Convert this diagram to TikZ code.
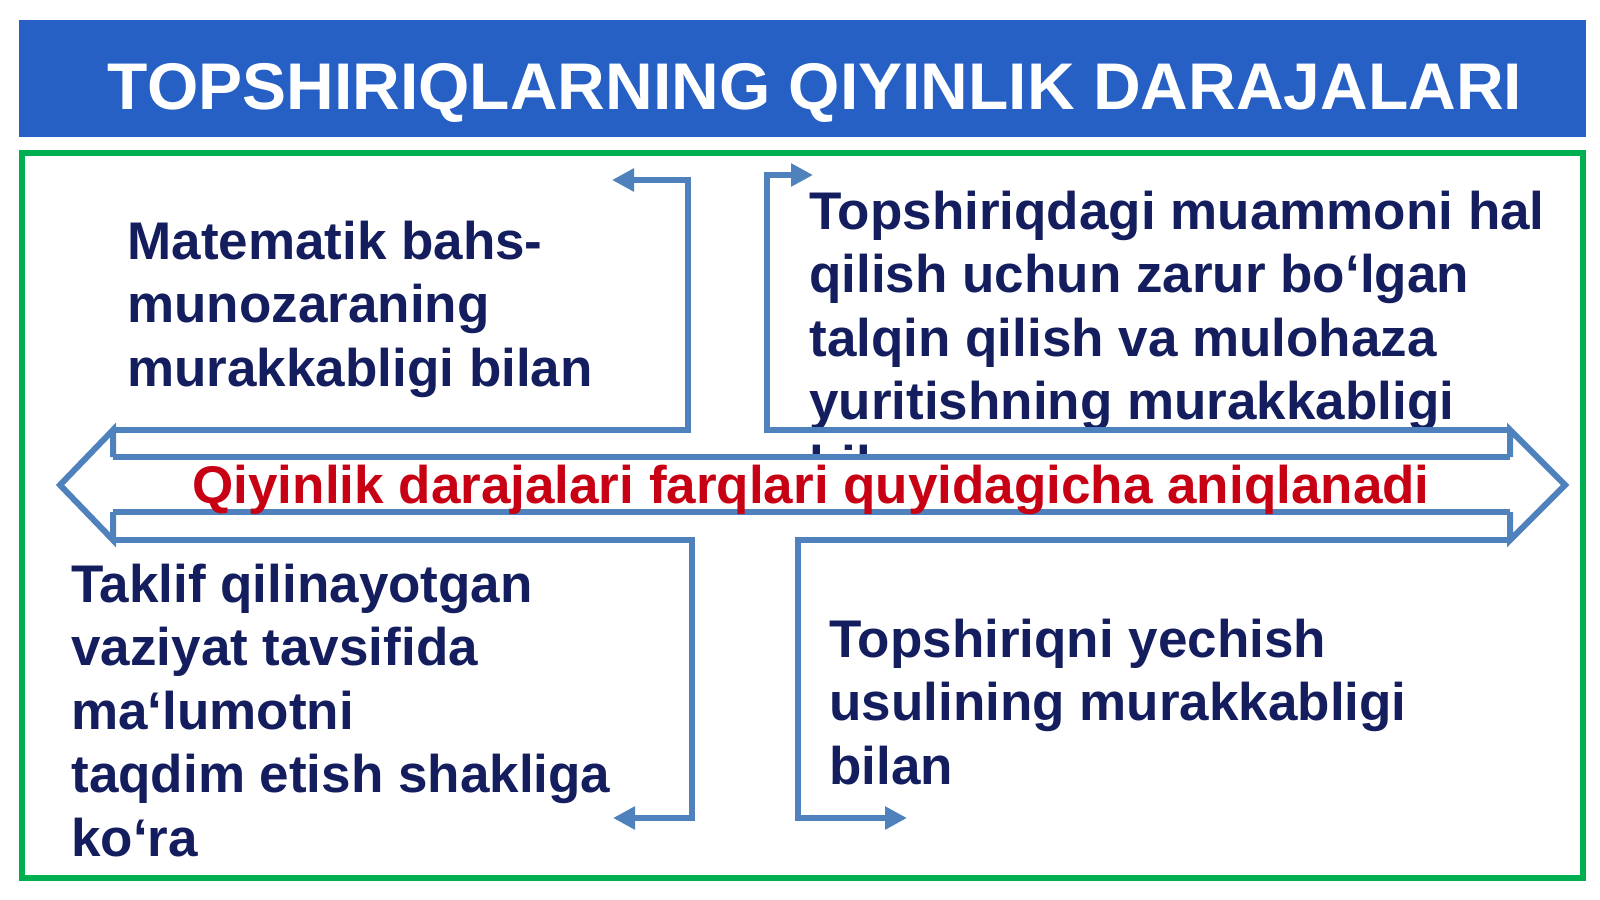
\documentclass[tikz,border=0pt]{standalone}
\usepackage{fontspec}
\setmainfont{Liberation Sans}
\usetikzlibrary{arrows.meta}
\definecolor{titleblue}{RGB}{38,96,196}
\definecolor{framegreen}{RGB}{0,176,80}
\definecolor{linkblue}{RGB}{79,129,189}
\definecolor{navytext}{RGB}{20,30,95}
\definecolor{darkredtext}{RGB}{200,0,20}
\begin{document}
\begin{tikzpicture}[x=0.5pt,y=-0.5pt,
  bodytext/.style={anchor=base west, inner sep=0pt, align=left, text=navytext, font=\fontsize{26.5}{31.75}\selectfont\bfseries},
  link/.style={draw=linkblue, line width=3pt},
  linkarrow/.style={link, -{Triangle[length=11pt,width=11pt]}},
 ]
\useasboundingbox (0,0) rectangle (1600,899);
\fill[white] (0,0) rectangle (1600,899);
% title bar
\fill[titleblue] (19,20) rectangle (1586,137);
\node[anchor=base, inner sep=0pt, text=white, font=\fontsize{33}{40}\selectfont\bfseries] (title) at (815,110) {TOPSHIRIQLARNING QIYINLIK DARAJALARI};
% green frame
\draw[framegreen, line width=3pt] (22,152.5) rectangle (1583,878);
% text blocks (anchor = baseline of the last line)
\node[bodytext] (tl) at (127,386) {Matematik bahs-\\munozaraning\\murakkabligi bilan};
\node[bodytext] (tr) at (809,483) {Topshiriqdagi muammoni hal\\qilish uchun zarur bo‘lgan\\talqin qilish va mulohaza\\yuritishning murakkabligi\\bilan};
\node[bodytext] (bl) at (71,856) {Taklif qilinayotgan\\vaziyat tavsifida\\ma‘lumotni\\taqdim etish shakliga\\ko‘ra};
\node[bodytext] (br) at (829,784) {Topshiriqni yechish\\usulining murakkabligi\\bilan};
% double arrow coordinates
\coordinate (Ltip) at (60,485);
\coordinate (Rtip) at (1565,485);
\coordinate (LA) at (113,430);
\coordinate (LB) at (113,457);
\coordinate (LC) at (113,512);
\coordinate (LD) at (113,540);
\coordinate (RA) at (1510,430);
\coordinate (RB) at (1510,457);
\coordinate (RC) at (1510,512);
\coordinate (RD) at (1510,540);
% white body of the double arrow
\fill[white] (Ltip) -- (LA) -- (LB) -- (RB) -- (RA) -- (Rtip) -- (RD) -- (RC) -- (LC) -- (LD) -- cycle;
% bracket corners
\coordinate (tlc1) at (688,430);
\coordinate (tlc2) at (688,180);
\coordinate (tlend) at (612,180);
\coordinate (trc1) at (767,430);
\coordinate (trc2) at (767,175);
\coordinate (trend) at (813,175);
\coordinate (blc1) at (692,540);
\coordinate (blc2) at (692,818);
\coordinate (blend) at (613,818);
\coordinate (brc1) at (798,540);
\coordinate (brc2) at (798,818);
\coordinate (brend) at (907,818);
% double arrow outline
\draw[link] (LB) -- (RB);
\draw[link] (LC) -- (RC);
\draw[link] (LB) -- (LA) -- (Ltip) -- (LD) -- (LC);
\draw[link] (RB) -- (RA) -- (Rtip) -- (RD) -- (RC);
% brackets
\draw[linkarrow] (LA) -- (tlc1) -- (tlc2) -- (tlend);
\draw[linkarrow] (RA) -- (trc1) -- (trc2) -- (trend);
\draw[linkarrow] (LD) -- (blc1) -- (blc2) -- (blend);
\draw[linkarrow] (RD) -- (brc1) -- (brc2) -- (brend);
% centre text
\node[anchor=base, inner sep=0pt, text=darkredtext, font=\fontsize{26.5}{31.75}\selectfont\bfseries] (mid) at (811,503) {Qiyinlik darajalari farqlari quyidagicha aniqlanadi};
\end{tikzpicture}
\end{document}
